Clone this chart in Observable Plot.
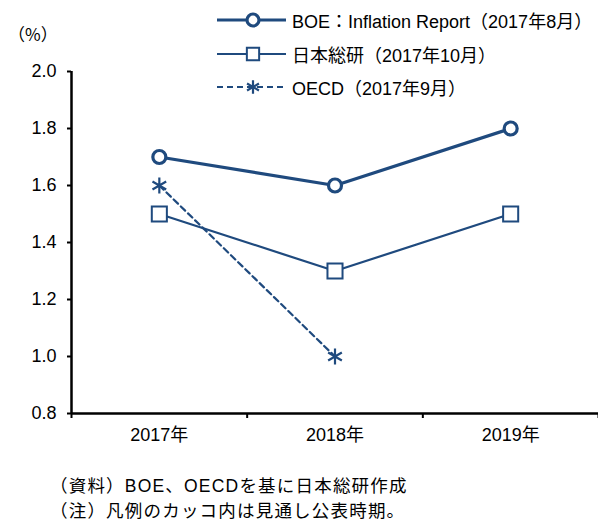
<!DOCTYPE html>
<html>
<head>
<meta charset="utf-8">
<script src="https://cdn.jsdelivr.net/npm/d3@7"></script>
<script src="https://cdn.jsdelivr.net/npm/@observablehq/plot@0.6"></script>
<style>
  html, body { margin: 0; padding: 0; background: #fff; }
  #wrap { position: relative; width: 598px; height: 523px; font-family: "Liberation Sans", "Noto Sans CJK JP", sans-serif; color: #000; }
  #legend { position: absolute; left: 216px; top: 0; }
  .item { position: absolute; left: 0; height: 22px; display: flex; align-items: center; white-space: nowrap; font-size: 18px; }
  .item svg { display: block; margin-right: 5px; }
  #notes { position: absolute; left: 50px; top: 474px; font-size: 17.5px; line-height: 25px; white-space: nowrap; letter-spacing: 1.2px; }
  #ylab { position: absolute; left: 8px; top: 21px; font-size: 17px; font-family: "Noto Sans CJK JP", sans-serif; }
</style>
</head>
<body>
<div id="wrap">
  <div id="chart"></div>
  <div id="ylab">（%）</div>
  <div id="legend"></div>
  <div id="notes"></div>
</div>
<script>
const years = ["2017年", "2018年", "2019年"];
const yTicks = [0.8, 1.0, 1.2, 1.4, 1.6, 1.8, 2.0];
const boe = [1.7, 1.6, 1.8];
const jri = [1.5, 1.3, 1.5];
const oecd = [1.6, 1.0, null];
const seriesNames = ["BOE：Inflation Report（2017年8月）", "日本総研（2017年10月）", "OECD（2017年9月）"];
const notes = ["（資料）BOE、OECDを基に日本総研作成", "（注）凡例のカッコ内は見通し公表時期。"];

const color = "#1F4A7E";
const rows = (vals) => years.map((y, i) => ({ x: i + 0.5, year: y, v: vals[i] })).filter(d => d.v != null);

const chart = Plot.plot({
  width: 598,
  height: 523,
  marginTop: 71,
  marginBottom: 110,
  marginLeft: 71,
  marginRight: 0,
  style: { fontFamily: "Liberation Sans, Noto Sans CJK JP, sans-serif", fontSize: "18px", color: "#000", background: "transparent", overflow: "visible" },
  x: { domain: [0, years.length], axis: null },
  y: { domain: [0.8, 2.0], axis: null },
  marks: [
    Plot.axisY({ ticks: yTicks, tickFormat: d => d.toFixed(1), tickSize: 4, tickPadding: 11, strokeWidth: 2, label: null, fontSize: 18 }),
    Plot.axisX({ ticks: d3.range(years.length + 1), tickFormat: () => "", tickSize: 5, strokeWidth: 2, label: null }),
    Plot.axisX({ ticks: years.map((_, i) => i + 0.5), tickFormat: d => years[Math.floor(d)], tickSize: 0, tickPadding: 15, label: null, fontSize: 18 }),
    Plot.ruleX([0], { stroke: "#000", strokeWidth: 2.5 }),
    Plot.ruleY([0.8], { stroke: "#000", strokeWidth: 2.5 }),
    Plot.line(rows(oecd), { x: "x", y: "v", stroke: color, strokeWidth: 2.2, strokeDasharray: "6,4" }),
    Plot.dot(rows(oecd), { x: "x", y: "v", symbol: "asterisk", r: 7.5, stroke: color, strokeWidth: 2.2 }),
    Plot.line(rows(jri), { x: "x", y: "v", stroke: color, strokeWidth: 2.2 }),
    Plot.dot(rows(jri), { x: "x", y: "v", symbol: "square", r: 8.5, stroke: color, fill: "#fff", strokeWidth: 2 }),
    Plot.line(rows(boe), { x: "x", y: "v", stroke: color, strokeWidth: 3.2 }),
    Plot.dot(rows(boe), { x: "x", y: "v", symbol: "circle", r: 6.5, stroke: color, fill: "#fff", strokeWidth: 3.2 })
  ]
});
document.getElementById("chart").appendChild(chart);

// Legend
const legendSpecs = [
  { sym: d3.symbolCircle, size: 6 * 6 * Math.PI, sw: 3.2, dash: null, fill: "#fff", top: 9 },
  { sym: d3.symbolSquare, size: 8 * 8 * Math.PI * 0.75, sw: 2, dash: null, fill: "#fff", top: 43 },
  { sym: d3.symbolAsterisk, size: 6.5 * 6.5 * Math.PI, sw: 2.2, dash: "6,4", fill: "none", top: 76 }
];
const legend = d3.select("#legend");
legendSpecs.forEach((s, k) => {
  const item = legend.append("div").attr("class", "item").style("top", s.top + "px");
  const svg = item.append("svg").attr("width", 71).attr("height", 22);
  svg.append("line").attr("x1", 1).attr("x2", 70).attr("y1", 11).attr("y2", 11)
    .attr("stroke", color).attr("stroke-width", k === 0 ? 3.2 : 2.2)
    .attr("stroke-dasharray", s.dash);
  svg.append("path").attr("d", d3.symbol(s.sym, s.size)())
    .attr("transform", "translate(37,11)")
    .attr("fill", s.fill).attr("stroke", color).attr("stroke-width", s.sw);
  item.append("span").text(seriesNames[k]);
});

// Notes
d3.select("#notes").selectAll("div").data(notes).join("div").text(d => d);
</script>
</body>
</html>
